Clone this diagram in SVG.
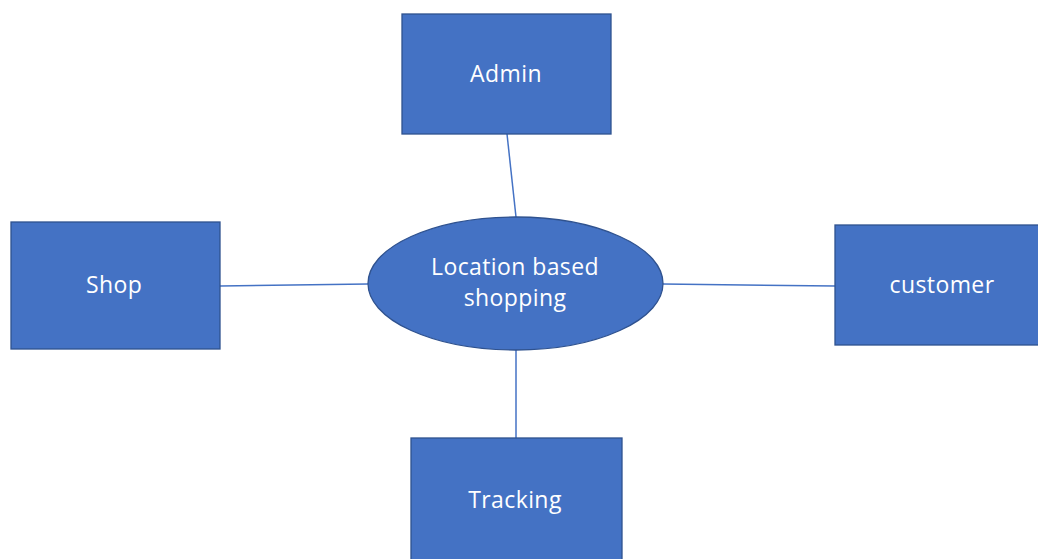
<svg xmlns="http://www.w3.org/2000/svg" width="1038" height="559" viewBox="0 0 1038 559">
<style>
.n{fill:#4472C4;stroke:#2F528F;stroke-width:1.3}
.t{fill:#fff;font-family:"Open Sans","Noto Sans",sans-serif;font-size:23px;letter-spacing:0.4px;text-anchor:middle}
.c{stroke:#4472C4;stroke-width:1.5;fill:none}
</style>
<rect width="1038" height="559" fill="#fff"/>
<g id="connectors">
<line class="c" x1="507" y1="134" x2="516" y2="217"/>
<line class="c" x1="220" y1="286" x2="368" y2="284"/>
<line class="c" x1="663" y1="284" x2="835" y2="286"/>
<line class="c" x1="516" y1="350" x2="516" y2="438"/>
</g>
<g id="admin"><rect class="n" x="402" y="14" width="209" height="120"/><text class="t" x="506" y="81.5">Admin</text></g>
<g id="center"><ellipse class="n" cx="515.5" cy="283.5" rx="147.5" ry="66.5"/><text class="t" x="515" y="275">Location based</text><text class="t" x="515" y="306">shopping</text></g>
<g id="shop"><rect class="n" x="11" y="222" width="209" height="127"/><text class="t" x="114" y="293">Shop</text></g>
<g id="customer"><rect class="n" x="835" y="225" width="205" height="120"/><text class="t" x="942" y="293">customer</text></g>
<g id="tracking"><rect class="n" x="411" y="438" width="211" height="125"/><text class="t" x="515" y="508">Tracking</text></g>
</svg>
